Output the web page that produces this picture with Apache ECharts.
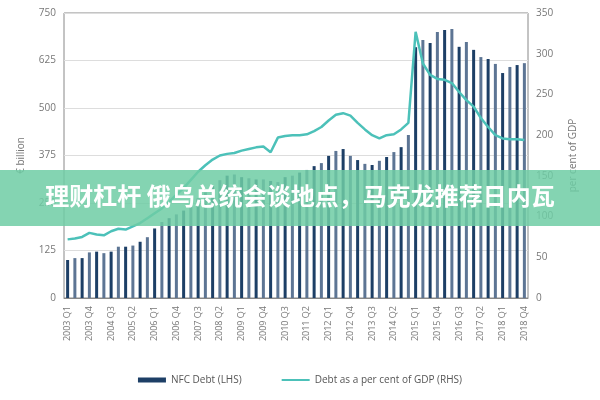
<!DOCTYPE html>
<html><head><meta charset="utf-8">
<script src="https://cdn.jsdelivr.net/npm/echarts@6/dist/echarts.min.js"></script>
<style>html,body{margin:0;padding:0;background:#fff}#c{width:600px;height:400px}</style>
</head><body><div id="c"></div>
<script>
const categories = [];
for (let y = 2003; y <= 2018; y++) for (let q = 1; q <= 4; q++) categories.push(y + ' Q' + q);
const nfcDebt = [100,105,105,120,122,118,122,135,135,138,148,160,183,200,210,220,
230,245,262,278,295,310,322,325,318,315,312,312,308,305,318,322,
330,337,347,355,374,387,392,374,363,353,350,361,371,384,397,429,
660,679,671,700,705,708,661,674,653,634,629,616,592,608,613,618];
const debtPctGdp = [72,73,75,80,78,77,82,85,84,88,92,98,104,110,118,127,
135,145,155,163,170,175,177,178,181,183,185,186,179,197,199,200,
200,201,205,210,218,225,227,224,215,207,200,196,200,201,207,215,
327,288,274,269,268,264,253,243,235,221,210,200,196,195,195,194];
const leftTicks = [0,125,250,375,500,625,750];
const rightTicks = [0,50,100,150,200,250,300,350];

const chart = echarts.init(document.getElementById('c'));
const axisText = {color:'#777', fontSize:10, fontFamily:'Open Sans'};
chart.setOption({
  animation:false,
  grid:{left:64,right:72,top:13,bottom:102,show:true,borderColor:'#888',borderWidth:1},
  legend:{bottom:10,itemGap:40,textStyle:{color:'#555',fontSize:10,fontFamily:'Open Sans'},
    data:[{name:'NFC Debt (LHS)',icon:'rect'},
          {name:'Debt as a per cent of GDP (RHS)',icon:'path://M0,0 L28,0 L28,2 L0,2 Z'}],
    itemWidth:28,itemHeight:5},
  xAxis:{type:'category',data:categories,axisTick:{show:false},
    axisLine:{lineStyle:{color:'#888'}},
    axisLabel:Object.assign({rotate:90,interval:2},axisText,{fontSize:9})},
  yAxis:[
    {type:'value',min:0,max:750,interval:125,name:'€ billion',nameLocation:'middle',nameGap:38,nameRotate:90,
      nameTextStyle:axisText,axisLabel:axisText,splitLine:{lineStyle:{color:'#ddd'}},axisLine:{show:false}},
    {type:'value',min:0,max:350,interval:50,name:'per cent of GDP',nameLocation:'middle',nameGap:40,nameRotate:90,
      nameTextStyle:axisText,axisLabel:axisText,splitLine:{show:false},axisLine:{show:false}}
  ],
  series:[
    {name:'NFC Debt (LHS)',type:'bar',barWidth:3,itemStyle:{color:'#1d3f66'},
      data:nfcDebt.map((v,i)=>({value:v,itemStyle:{color:i%2?'#5d7594':'#1d3f66'}}))},
    {name:'Debt as a per cent of GDP (RHS)',type:'line',yAxisIndex:1,symbol:'none',
      lineStyle:{color:'#4cc1b9',width:2.5},itemStyle:{color:'#4cc1b9'},data:debtPctGdp}
  ],
  graphic:[
    {type:'rect',shape:{x:0,y:170,width:600,height:56},style:{fill:'rgba(110,205,165,0.85)'},z:100},
    {type:'text',left:'center',top:184,z:101,style:{text:'理财杠杆 俄乌总统会谈地点，马克龙推荐日内瓦',
      fill:'#fff',font:'bold 24px "Noto Sans CJK SC"'}}
  ]
});
</script></body></html>
